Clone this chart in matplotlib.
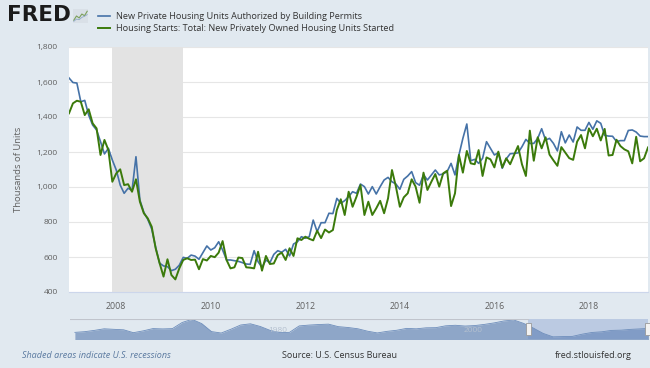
import numpy as np
import matplotlib.pyplot as plt
from matplotlib.patches import Rectangle

plt.rcParams['font.family'] = ['Open Sans', 'DejaVu Sans']

# monthly values, Jan 2007 - Apr 2019, thousands of units (SAAR)
permits = [1623, 1597, 1594, 1487, 1495, 1411, 1354, 1326, 1259, 1189, 1221, 1154,
           1097, 1011, 964, 993, 980, 1173, 926, 855, 815, 760, 655, 565,
           549, 545, 522, 530, 553, 598, 592, 611, 605, 587, 625, 663,
           640, 653, 687, 640, 583, 583, 579, 575, 568, 560, 558, 636,
           573, 541, 583, 567, 615, 636, 627, 644, 606, 674, 687, 716,
           707, 716, 811, 745, 796, 796, 850, 848, 935, 907, 922, 945,
           973, 964, 1017, 1002, 960, 1002, 960, 1002, 1040, 1055, 1030, 1017,
           987, 1044, 1063, 1088, 1025, 1010, 1070, 1040, 1069, 1097, 1069, 1075,
           1088, 1135, 1069, 1183, 1278, 1360, 1150, 1158, 1135, 1164, 1259, 1221,
           1183, 1196, 1107, 1160, 1190, 1192, 1195, 1230, 1272, 1249, 1249, 1278,
           1333, 1268, 1278, 1249, 1206, 1316, 1252, 1297, 1257, 1343, 1324, 1324,
           1369, 1330, 1378, 1364, 1295, 1291, 1290, 1260, 1265, 1265, 1323, 1326,
           1314, 1291, 1288, 1288]

starts = [1421, 1478, 1493, 1487, 1411, 1444, 1364, 1335, 1183, 1269, 1211, 1030,
          1078, 1101, 1011, 1016, 973, 1044, 916, 850, 821, 773, 650, 565,
          488, 587, 497, 472, 535, 583, 593, 583, 585, 530, 588, 580,
          606, 599, 625, 691, 583, 535, 541, 597, 594, 541, 539, 535,
          630, 522, 606, 560, 563, 611, 625, 583, 650, 606, 707, 697,
          716, 704, 695, 750, 708, 757, 740, 754, 869, 930, 840, 973,
          887, 945, 1011, 840, 916, 840, 878, 921, 850, 935, 1097, 1002,
          887, 941, 964, 1044, 1002, 910, 1082, 983, 1030, 1074, 1002, 1078,
          1093, 891, 964, 1183, 1082, 1206, 1135, 1130, 1211, 1063, 1169, 1158,
          1112, 1202, 1112, 1164, 1130, 1183, 1234, 1130, 1063, 1322, 1150, 1284,
          1221, 1284, 1185, 1152, 1121, 1228, 1196, 1165, 1155, 1259, 1297, 1221,
          1335, 1290, 1333, 1266, 1332, 1180, 1183, 1270, 1234, 1215, 1204, 1135,
          1287, 1147, 1164, 1226]

# recession (Dec 2007 - Jun 2009)
recession = (2007 + 11 / 12, 2009 + 5 / 12)

# navigator: annual permits 1960-2019
nav_years = np.arange(1960, 2020)
nav_values = [1000, 1064, 1186, 1334, 1285, 1240, 971, 1141, 1353, 1323,
              1352, 1925, 2219, 1820, 1074, 939, 1296, 1690, 1801, 1552,
              1191, 986, 1000, 1605, 1682, 1733, 1769, 1535, 1456, 1338,
              1111, 949, 1095, 1199, 1372, 1333, 1426, 1441, 1612, 1664,
              1592, 1637, 1748, 1889, 2070, 2155, 1839, 1398, 905, 583,
              605, 624, 830, 991, 1052, 1183, 1207, 1282, 1329, 1386]

x_ticks = [2008, 2010, 2012, 2014, 2016, 2018]
y_ticks = [400, 600, 800, 1000, 1200, 1400, 1600, 1800]

label_permits = 'New Private Housing Units Authorized by Building Permits'
label_starts = 'Housing Starts: Total: New Privately Owned Housing Units Started'

months = 2007 + np.arange(len(permits)) / 12.0

W, H = 650, 368
fig = plt.figure(figsize=(W / 100, H / 100), dpi=100)
fig.patch.set_facecolor('#e1e9f0')

# main chart
ax = fig.add_axes([69 / W, 1 - 292 / H, (648 - 69) / W, (292 - 47) / H])
ax.set_facecolor('white')
ax.axvspan(recession[0], recession[1], color='#e3e3e3', lw=0, zorder=1)
l1, = ax.plot(months, permits, color='#4572a7', lw=1.2, zorder=3)
l2, = ax.plot(months, starts, color='#3b7a0b', lw=1.4, zorder=4)

ax.set_xlim(2007, months[-1])
ax.set_ylim(400, 1800)
ax.set_xticks(x_ticks)
ax.set_xticklabels([str(t) for t in x_ticks])
ax.set_yticks(y_ticks)
ax.set_yticklabels(['{:,}'.format(t) for t in y_ticks])
ax.yaxis.grid(True, color='#e6e6e6', lw=0.8, zorder=0)
ax.set_axisbelow(True)
for s in ['top', 'right', 'left']:
    ax.spines[s].set_visible(False)
ax.spines['bottom'].set_color('#ccd6eb')
ax.tick_params(axis='y', length=0, pad=8, labelsize=6, labelcolor='#606060')
ax.tick_params(axis='x', length=0, pad=7, labelsize=6.3, labelcolor='#606060')
ax.set_ylabel('Thousands of Units', fontsize=6.8, color='#606060', labelpad=10)

# navigator
nav = fig.add_axes([70 / W, 1 - 339 / H, (648 - 70) / W, 20 / H])
nav.set_facecolor('none')
nav.fill_between(nav_years + 0.5, nav_values, 0, color='#8ea6c8', lw=0)
nav.plot(nav_years + 0.5, nav_values, color='#6d8dbb', lw=0.6)
nav.set_xlim(1960, 2007 + 147 / 12)
nav.set_ylim(380, 2250)
nav.axvspan(2007, 2007 + 147 / 12, color='#6685c2', alpha=0.3, lw=0)
nav.axhline(2250, xmax=(2007 - 1960) / (47 + 147 / 12), color='#c0c4cc', lw=0.8)
for yr in [1980, 2000]:
    nav.text(yr + 0.3, 1150, str(yr), fontsize=6, color='#b4c0cf', va='center',
             zorder=6)
for xh in [2007, 2007 + 147 / 12]:
    nav.add_patch(Rectangle((xh - 0.28, 800), 0.56, 1100, facecolor='#f2f2f2',
                            edgecolor='#999999', lw=0.6, zorder=5, clip_on=False))
nav.axis('off')

# legend and logo
fig.legend([l1, l2], [label_permits, label_starts], loc='upper left',
           bbox_to_anchor=(90 / W, 1 - 4 / H), frameon=False, fontsize=6.6,
           handlelength=1.3, handletextpad=0.6, labelspacing=0.3,
           labelcolor='#333333')
fig.text(7 / W, 1 - 15 / H, 'FRED', fontsize=15.5, weight='heavy',
         family='DejaVu Sans', color='#1b1b1b', va='center')
icon = fig.add_axes([73 / W, 1 - 23 / H, 15 / W, 14 / H])
icon.set_facecolor('#d9e0e7')
icon.plot([0, 1, 2, 3, 4, 5], [1, 2.5, 1.8, 3.2, 2.6, 4.2], color='#7ba05b', lw=0.8)
icon.plot([0, 1, 2, 3, 4, 5], [0.6, 1.4, 1.2, 2.0, 2.4, 3.0], color='#8fa8c8', lw=0.6)
icon.set_xlim(-0.3, 5.3)
icon.set_ylim(0, 5)
icon.set_xticks([])
icon.set_yticks([])
for s in icon.spines.values():
    s.set_visible(False)

# footer
fig.text(22 / W, 1 - 355 / H, 'Shaded areas indicate U.S. recessions', fontsize=6.5,
         style='italic', color='#5b7aa0', va='center')
fig.text(340 / W, 1 - 355 / H, 'Source: U.S. Census Bureau', fontsize=6.5,
         color='#333333', va='center', ha='center')
fig.text(632 / W, 1 - 355 / H, 'fred.stlouisfed.org', fontsize=6.5,
         color='#333333', va='center', ha='right')

fig.savefig('out.png', dpi=100, facecolor=fig.get_facecolor())
